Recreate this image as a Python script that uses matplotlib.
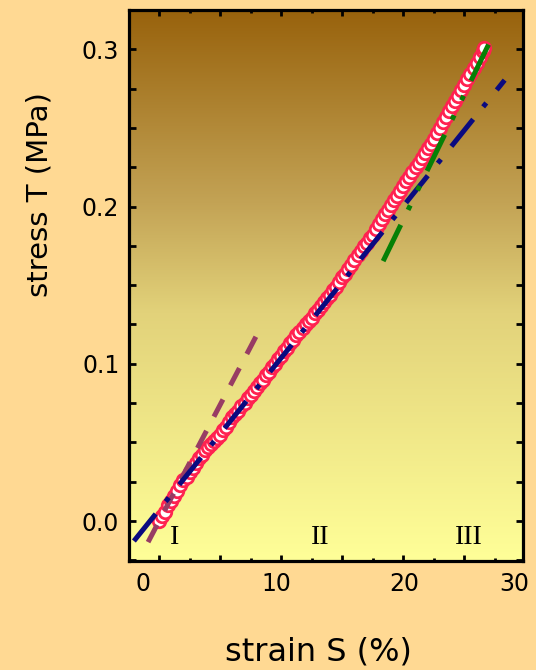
import numpy as np
import matplotlib
matplotlib.use('Agg')
import matplotlib.pyplot as plt
from matplotlib.colors import LinearSegmentedColormap
from matplotlib.ticker import MultipleLocator, NullFormatter

plt.rcParams['lines.scale_dashes'] = False

# Measured stress-strain data (strain in %, stress in MPa)
strain = [0.00, 0.25, 0.50, 0.75, 1.00, 1.25, 1.50, 1.75, 2.00, 2.25, 2.50, 2.75,
          3.00, 3.25, 3.50, 3.75, 4.00, 4.25, 4.50, 4.75, 5.00, 5.25, 5.50, 5.75,
          6.00, 6.25, 6.50, 6.75, 7.00, 7.25, 7.50, 7.75, 8.00, 8.25, 8.50, 8.75,
          9.00, 9.25, 9.50, 9.75, 10.00, 10.25, 10.50, 10.75, 11.00, 11.25, 11.50,
          11.75, 12.00, 12.25, 12.50, 12.75, 13.00, 13.25, 13.50, 13.75, 14.00,
          14.25, 14.50, 14.75, 15.00, 15.25, 15.50, 15.75, 16.00, 16.25, 16.50,
          16.75, 17.00, 17.25, 17.50, 17.75, 18.00, 18.25, 18.50, 18.75, 19.00,
          19.25, 19.50, 19.75, 20.00, 20.25, 20.50, 20.75, 21.00, 21.25, 21.50,
          21.75, 22.00, 22.25, 22.50, 22.75, 23.00, 23.25, 23.50, 23.75, 24.00,
          24.25, 24.50, 24.75, 25.00, 25.25, 25.50, 25.75, 26.00, 26.25, 26.50,
          26.60]
stress = [0.000, 0.003, 0.006, 0.010, 0.013, 0.016, 0.019, 0.023, 0.026, 0.028,
          0.031, 0.034, 0.037, 0.040, 0.042, 0.045, 0.047, 0.049, 0.051, 0.053,
          0.055, 0.058, 0.060, 0.063, 0.066, 0.068, 0.070, 0.073, 0.075, 0.078,
          0.080, 0.083, 0.085, 0.088, 0.090, 0.093, 0.095, 0.098, 0.100, 0.103,
          0.105, 0.108, 0.110, 0.113, 0.115, 0.118, 0.120, 0.123, 0.125, 0.127,
          0.129, 0.132, 0.134, 0.137, 0.139, 0.142, 0.144, 0.147, 0.149, 0.152,
          0.155, 0.157, 0.160, 0.163, 0.166, 0.169, 0.172, 0.175, 0.177, 0.180,
          0.182, 0.186, 0.189, 0.192, 0.195, 0.198, 0.201, 0.204, 0.207, 0.210,
          0.213, 0.216, 0.219, 0.222, 0.225, 0.228, 0.231, 0.234, 0.237, 0.240,
          0.243, 0.247, 0.250, 0.254, 0.257, 0.261, 0.264, 0.267, 0.270, 0.274,
          0.277, 0.281, 0.284, 0.288, 0.291, 0.295, 0.299, 0.301]

# Linear fits for the three regions (end points)
fit1_s = [-0.9, 8.3]
fit1_t = [-0.0134, 0.1227]
fit2_s = [-2.06, 28.3]
fit2_t = [-0.0127, 0.2804]
fit3_s = [18.35, 27.0]
fit3_t = [0.1653, 0.3033]

region_labels = ['I', 'II', 'III']
region_pos = [1.3, 13.2, 25.4]

xtick_labels = ['0', '10', '20', '30']
xtick_label_pos = [-1.3, 9.6, 20.1, 29.05]
ytick_vals = [0.0, 0.1, 0.2, 0.3]

xlim = (-2.46, 29.8)
ylim = (-0.0254, 0.325)

fig = plt.figure(figsize=(5.36, 6.70), dpi=100, facecolor='#FFD993')
ax = fig.add_axes([0.2407, 0.1627, 0.735, 0.8224])

# gradient background of the plot area
cmap = LinearSegmentedColormap.from_list(
    'bg', [(0.0, '#FFFF98'), (0.45, '#E2D27A'), (0.65, '#C3A355'), (1.0, '#98620C')])
grad = np.linspace(0, 1, 256).reshape(-1, 1)
ax.imshow(grad, extent=[xlim[0], xlim[1], ylim[0], ylim[1]], origin='lower',
          aspect='auto', cmap=cmap, zorder=0)

ax.plot(strain, stress, 'o', ms=9, mfc='white', mec='#FF2250', mew=2, zorder=2)

ax.plot(fit1_s, fit1_t, color='#983C64', lw=3.6, dashes=(14, 11.5),
        dash_capstyle='butt', zorder=3)
ax.plot(fit2_s, fit2_t, color='#0A0A80', lw=3.6, dashes=(25, 11.5, 3.6, 12),
        dash_capstyle='butt', zorder=4)
ax.plot(fit3_s, fit3_t, color='#068006', lw=3.6,
        dashes=(29, 12, 3.6, 12, 3.6, 12), dash_capstyle='butt', zorder=4)

for lab, xp in zip(region_labels, region_pos):
    ax.text(xp, -0.0105, lab, fontsize=20, family='Liberation Serif',
            ha='center', va='center', zorder=5)

ax.set_xlim(*xlim)
ax.set_ylim(*ylim)

ax.xaxis.set_major_locator(MultipleLocator(5))
ax.xaxis.set_minor_locator(MultipleLocator(2.5))
ax.xaxis.set_major_formatter(NullFormatter())
ax.set_yticks(ytick_vals)
ax.set_yticklabels([f'{v:.1f}' for v in ytick_vals])
ax.yaxis.set_minor_locator(MultipleLocator(0.025))

ax.tick_params(axis='x', which='major', direction='in', top=True, length=4.5, width=2)
ax.tick_params(axis='x', which='minor', direction='in', top=True, length=2.2, width=2)
ax.tick_params(axis='y', which='both', direction='in', right=True, length=4.8,
               width=2, labelsize=17, pad=7)
for sp in ax.spines.values():
    sp.set_linewidth(2.3)
    sp.set_zorder(6)

for lab, xp in zip(xtick_labels, xtick_label_pos):
    ax.text(xp, -0.042, lab, transform=ax.get_xaxis_transform(), fontsize=17,
            ha='center', va='center', clip_on=False)

ax.set_xlabel('strain S (%)', fontsize=23, va='center')
ax.xaxis.set_label_coords(0.595, 0.027, transform=fig.transFigure)
ax.set_ylabel('stress T (MPa)', fontsize=21, va='center')
ax.yaxis.set_label_coords(0.0746, 0.709, transform=fig.transFigure)

fig.savefig('out.png', dpi=100, facecolor=fig.get_facecolor())
